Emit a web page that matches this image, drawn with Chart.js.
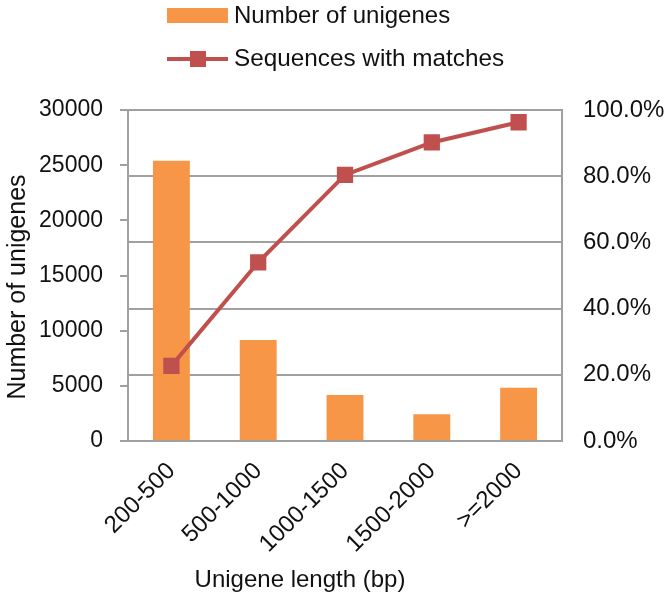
<!DOCTYPE html>
<html>
<head>
<meta charset="utf-8">
<script src="https://cdn.jsdelivr.net/npm/chart.js@4.4.1/dist/chart.umd.min.js"></script>
<style>
  html, body { margin: 0; padding: 0; background: #ffffff; }
  #wrap { position: relative; width: 672px; height: 601px; }
</style>
</head>
<body>
<div id="wrap"><canvas id="c" width="672" height="601"></canvas></div>
<script>
const categories = ['200-500', '500-1000', '1000-1500', '1500-2000', '>=2000'];
const unigeneCounts = [25400, 9150, 4170, 2420, 4830];
const matchPercent = [22.7, 54.0, 80.4, 90.2, 96.3];
const leftTicks = [0, 5000, 10000, 15000, 20000, 25000, 30000];
const rightTicks = [0, 20, 40, 60, 80, 100];

const barLabel = 'Number of unigenes';
const lineLabel = 'Sequences with matches';
const xTitle = 'Unigene length (bp)';
const yTitle = 'Number of unigenes';

const BAR = '#F79646';
const LINE = '#C0504D';
const GRID = '#a0a0a0';
const TEXT = '#111111';
const FONT = '"Liberation Sans", Arial, sans-serif';

const decor = {
  id: 'decor',
  afterDraw(chart) {
    const ctx = chart.ctx;
    ctx.save();
    // legend
    ctx.fillStyle = BAR;
    ctx.fillRect(167, 8, 61, 15);
    ctx.strokeStyle = LINE;
    ctx.lineWidth = 4;
    ctx.beginPath();
    ctx.moveTo(167, 59);
    ctx.lineTo(228, 59);
    ctx.stroke();
    ctx.fillStyle = LINE;
    ctx.fillRect(190, 51, 16, 16);
    ctx.fillStyle = TEXT;
    ctx.font = '24px ' + FONT;
    ctx.textAlign = 'left';
    ctx.textBaseline = 'middle';
    ctx.fillText(barLabel, 234, 16);
    ctx.font = '24.3px ' + FONT;
    ctx.fillText(lineLabel, 234, 59);
    // x title
    ctx.font = '24px ' + FONT;
    ctx.textAlign = 'center';
    ctx.fillText(xTitle, 300, 580);
    // y title
    ctx.font = '25px ' + FONT;
    ctx.translate(18, 287);
    ctx.rotate(-Math.PI / 2);
    ctx.fillText(yTitle, 0, 0);
    ctx.restore();
  }
};

new Chart(document.getElementById('c'), {
  data: {
    labels: categories,
    datasets: [
      {
        type: 'line',
        label: lineLabel,
        data: matchPercent,
        yAxisID: 'y1',
        borderColor: LINE,
        backgroundColor: LINE,
        borderWidth: 4,
        pointStyle: 'rect',
        pointRadius: 11.5,
        pointHoverRadius: 11.5,
        pointBorderWidth: 0,
        tension: 0,
        order: 0
      },
      {
        type: 'bar',
        label: barLabel,
        data: unigeneCounts,
        yAxisID: 'y',
        backgroundColor: BAR,
        borderWidth: 0,
        barPercentage: 0.425,
        categoryPercentage: 1.0,
        order: 1
      }
    ]
  },
  options: {
    responsive: false,
    animation: false,
    layout: { padding: { top: 110, left: 0, right: 0, bottom: 0 } },
    plugins: { legend: { display: false }, tooltip: { enabled: false } },
    scales: {
      x: {
        offset: true,
        grid: { display: false, drawTicks: false },
        border: { display: true, color: GRID, width: 2 },
        ticks: {
          color: TEXT, font: { family: FONT, size: 24 },
          minRotation: 45, maxRotation: 45, padding: 16, autoSkip: false
        },
        afterFit(s) { s.height = 160; }
      },
      y: {
        position: 'left',
        min: 0, max: 30000,
        afterBuildTicks(s) { s.ticks = leftTicks.map(v => ({ value: v })); },
        grid: { drawOnChartArea: false, drawTicks: true, tickLength: 8, color: GRID, lineWidth: 2 },
        border: { display: true, color: GRID, width: 2 },
        ticks: {
          color: TEXT, font: { family: FONT, size: 23 }, padding: 17,
          callback: v => String(v)
        },
        afterFit(s) { s.width = 128; }
      },
      y1: {
        position: 'right',
        min: 0, max: 100,
        afterBuildTicks(s) { s.ticks = rightTicks.map(v => ({ value: v })); },
        grid: { drawOnChartArea: true, drawTicks: false, color: GRID, lineWidth: 2 },
        border: { display: true, color: GRID, width: 2 },
        ticks: {
          color: TEXT, font: { family: FONT, size: 24 }, padding: 21,
          callback: v => v.toFixed(1) + '%'
        },
        afterFit(s) { s.width = 110; }
      }
    }
  },
  plugins: [decor]
});
</script>
</body>
</html>
